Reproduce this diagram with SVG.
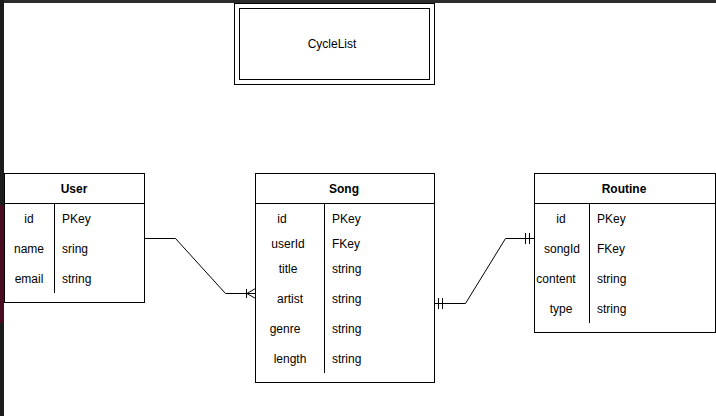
<svg xmlns="http://www.w3.org/2000/svg" width="716" height="416" viewBox="0 0 716 416">
<style>
.box{fill:#fff;stroke:#000;stroke-width:1}
.ln{stroke:#000;stroke-width:1;fill:none}
text{font-family:"Liberation Sans",Arial,sans-serif;font-size:12px;fill:#000;dominant-baseline:central}
.h{font-weight:bold;text-anchor:middle}
.c{text-anchor:middle}
</style>
<rect x="0" y="0" width="716" height="416" fill="#fff"/>
<rect x="0" y="0" width="716" height="3" fill="#2b2b2b"/>
<rect x="0" y="0" width="4" height="416" fill="#1c1c1c"/>
<rect x="0" y="205" width="4" height="118" fill="#4a0c20"/>
<g id="cyclelist">
<rect class="box" x="234.5" y="3.5" width="200" height="81"/>
<rect class="box" x="239.5" y="8.5" width="190" height="71"/>
<text class="c" x="332" y="44">CycleList</text>
</g>
<g id="user">
<rect class="box" x="4.5" y="173.5" width="140" height="129"/>
<line class="ln" x1="4.5" y1="203.5" x2="144.5" y2="203.5"/>
<line class="ln" x1="54.5" y1="203.5" x2="54.5" y2="293"/>
<text class="h" x="74" y="189">User</text>
<text class="c" x="29" y="219">id</text><text x="62" y="219">PKey</text>
<text class="c" x="29" y="249">name</text><text x="62" y="249">sring</text>
<text class="c" x="29" y="279">email</text><text x="62" y="279">string</text>
</g>
<g id="song">
<rect class="box" x="255.5" y="173.5" width="179" height="209"/>
<line class="ln" x1="255.5" y1="203.5" x2="434.5" y2="203.5"/>
<line class="ln" x1="324.5" y1="203.5" x2="324.5" y2="373"/>
<text class="h" x="344" y="189">Song</text>
<text class="c" x="282" y="219">id</text><text x="332" y="219">PKey</text>
<text class="c" x="288" y="244">userId</text><text x="332" y="244">FKey</text>
<text class="c" x="288" y="269">title</text><text x="332" y="269">string</text>
<text class="c" x="290" y="299">artist</text><text x="332" y="299">string</text>
<text class="c" x="285" y="329">genre</text><text x="332" y="329">string</text>
<text class="c" x="290" y="359">length</text><text x="332" y="359">string</text>
</g>
<g id="routine">
<rect class="box" x="534.5" y="173.5" width="181" height="159"/>
<line class="ln" x1="534.5" y1="203.5" x2="715.5" y2="203.5"/>
<line class="ln" x1="589.5" y1="203.5" x2="589.5" y2="323"/>
<text class="h" x="624" y="189">Routine</text>
<text class="c" x="561" y="219">id</text><text x="597" y="219">PKey</text>
<text class="c" x="562" y="249">songId</text><text x="597" y="249">FKey</text>
<text class="c" x="556" y="279">content</text><text x="597" y="279">string</text>
<text class="c" x="561" y="309">type</text><text x="597" y="309">string</text>
</g>
<g id="connectors">
<polyline class="ln" points="144.5,238.5 175.5,238.5 225.5,293.5 255.5,293.5"/>
<line class="ln" x1="246.5" y1="289" x2="246.5" y2="298"/>
<polyline class="ln" points="255.5,288.5 247,293.5 255.5,298.5"/>
<polyline class="ln" points="434.5,303.5 465.5,303.5 505.5,238.5 534.5,238.5"/>
<line class="ln" x1="438.5" y1="298" x2="438.5" y2="309"/>
<line class="ln" x1="442.5" y1="298" x2="442.5" y2="309"/>
<line class="ln" x1="525.5" y1="233" x2="525.5" y2="244"/>
<line class="ln" x1="529.5" y1="233" x2="529.5" y2="244"/>
</g>
</svg>
